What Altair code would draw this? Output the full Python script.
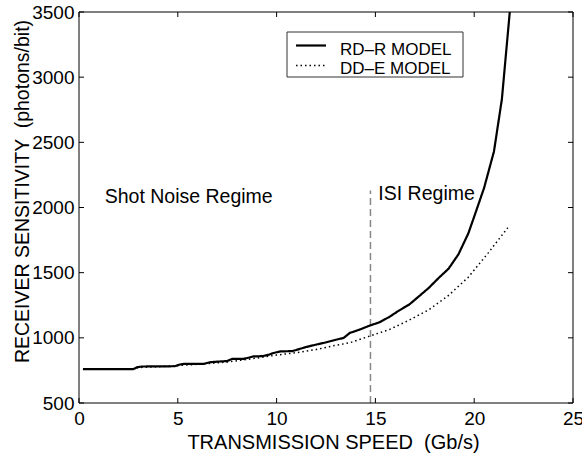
import altair as alt
import pandas as pd

# ---- data ----
series_names = ["RD\u2013R MODEL", "DD\u2013E MODEL"]

rd_x = [0.2, 2.75, 2.95, 3.2, 4.85, 5.1, 5.3, 6.3, 6.6, 6.8, 7.5, 7.75, 8.3, 8.6, 8.8,
        9.3, 9.6, 9.85, 10.2, 10.8, 11.5, 12.0, 12.5, 13.0, 13.4, 13.7, 14.2, 14.7,
        15.2, 15.7, 16.2, 16.7, 17.2, 17.7, 18.2, 18.7, 19.2, 19.7, 20.0, 20.5, 21.0,
        21.4, 21.8]
rd_y = [760, 760, 775, 780, 782, 795, 800, 800, 812, 815, 822, 838, 838, 848, 857,
        860, 870, 884, 896, 898, 930, 948, 965, 985, 1000, 1037, 1063, 1093,
        1119, 1160, 1210, 1254, 1318, 1383, 1459, 1530, 1640, 1800, 1930, 2150, 2430,
        2830, 3500]

dd_x = [0.2, 2.75, 3.0, 4.0, 5.0, 6.0, 7.0, 7.5, 8.0, 9.0, 10.0, 11.0, 12.0, 13.0,
        13.7, 14.7, 15.7, 16.7, 17.7, 18.7, 19.7, 20.7, 21.7]
dd_y = [760, 760, 772, 778, 787, 797, 808, 814, 824, 845, 868, 886, 910, 943,
        962, 1013, 1063, 1135, 1215, 1325, 1465, 1650, 1845]

boundary_x = [14.75]
boundary_y0 = [500]
boundary_y1 = [2130]

anno_labels = ["Shot Noise Regime", "ISI Regime"]
anno_x = [1.3, 15.15]
anno_y = [2035, 2055]

x_ticks = [0, 5, 10, 15, 20, 25]
y_ticks = [500, 1000, 1500, 2000, 2500, 3000, 3500]

# ---- tables ----
rows = []
for i, (x, y) in enumerate(zip(rd_x, rd_y)):
    rows.append({"series": series_names[0], "x": x, "y": y, "order": i})
for i, (x, y) in enumerate(zip(dd_x, dd_y)):
    rows.append({"series": series_names[1], "x": x, "y": y, "order": i})
df = pd.DataFrame(rows)

FONT = "Liberation Sans"
xscale = alt.Scale(domain=[0, 25], nice=False, zero=False)
yscale = alt.Scale(domain=[500, 3500], nice=False, zero=False)

x_axis = alt.Axis(
    values=x_ticks, format="d", title="TRANSMISSION SPEED \u00a0(Gb/s)", grid=False,
    ticks=False, domain=False, labelFontSize=19, labelFont=FONT,
    labelColor="black", labelPadding=6, titleFontSize=20, titleFont=FONT,
    titleFontWeight="normal", titleColor="black", titleX=254, titleY=45,
    titleAlign="center", titleBaseline="alphabetic", labelFlush=False)
y_axis = alt.Axis(
    values=y_ticks, format="d", title="RECEIVER SENSITIVITY \u00a0(photons/bit)",
    grid=False, ticks=False, domain=False, labelFontSize=19, labelFont=FONT,
    labelColor="black", labelPadding=5, titleFontSize=19.5, titleFont=FONT,
    titleFontWeight="normal", titleColor="black", titleX=-51, titleY=179,
    titleAngle=270, titleAlign="center", titleBaseline="alphabetic",
    labelFlush=False)

dash_scale = alt.Scale(domain=series_names, range=[[1, 0], [1.5, 3]])
width_scale = alt.Scale(domain=series_names, range=[2.2, 1.5])

lines = alt.Chart(df).mark_line(clip=True, color="black").encode(
    x=alt.X("x:Q", scale=xscale, axis=x_axis),
    y=alt.Y("y:Q", scale=yscale, axis=y_axis),
    strokeDash=alt.StrokeDash("series:N", scale=dash_scale, legend=None),
    strokeWidth=alt.StrokeWidth("series:N", scale=width_scale, legend=None),
    order="order:Q",
)

bdf = pd.DataFrame({"x": boundary_x, "y0": boundary_y0, "y1": boundary_y1})
boundary = alt.Chart(bdf).mark_rule(color="#888", strokeWidth=1.5, strokeDash=[7, 4]).encode(
    x=alt.X("x:Q", scale=xscale, axis=x_axis),
    y=alt.Y("y0:Q", scale=yscale, axis=y_axis),
    y2="y1:Q",
)

adf = pd.DataFrame({"label": anno_labels, "x": anno_x, "y": anno_y})
annos = alt.Chart(adf).mark_text(align="left", baseline="alphabetic", fontSize=19.5,
                                 font=FONT, color="black").encode(
    x=alt.X("x:Q", scale=xscale, axis=x_axis),
    y=alt.Y("y:Q", scale=yscale, axis=y_axis),
    text="label:N",
)

# inward ticks on all four sides
xt = pd.DataFrame({"t": x_ticks})
yt = pd.DataFrame({"t": y_ticks})
tick_bottom = alt.Chart(xt).mark_rule(color="black", strokeWidth=1).encode(
    x=alt.X("t:Q", scale=xscale, axis=x_axis), y=alt.value(391), y2=alt.value(386))
tick_top = alt.Chart(xt).mark_rule(color="black", strokeWidth=1).encode(
    x=alt.X("t:Q", scale=xscale, axis=x_axis), y=alt.value(0), y2=alt.value(5))
tick_left = alt.Chart(yt).mark_rule(color="black", strokeWidth=1).encode(
    y=alt.Y("t:Q", scale=yscale, axis=y_axis), x=alt.value(0), x2=alt.value(5))
tick_right = alt.Chart(yt).mark_rule(color="black", strokeWidth=1).encode(
    y=alt.Y("t:Q", scale=yscale, axis=y_axis), x=alt.value(494), x2=alt.value(489))

# plot frame
one = pd.DataFrame({"k": [0]})
frame = alt.Chart(one).mark_rect(fill=None, stroke="black", strokeWidth=1).encode(
    x=alt.value(0), x2=alt.value(494), y=alt.value(0), y2=alt.value(391))

# legend box (drawn by hand so it matches the compact original)
leg_box = alt.Chart(one).mark_rect(fill="white", stroke="#333", strokeWidth=1).encode(
    x=alt.value(208), x2=alt.value(384), y=alt.value(20), y2=alt.value(65))
leg_df1 = pd.DataFrame({"series": [series_names[0]]})
leg_df2 = pd.DataFrame({"series": [series_names[1]]})
leg_line1 = alt.Chart(leg_df1).mark_rule(color="black", strokeWidth=2.2).encode(
    x=alt.value(217), x2=alt.value(247), y=alt.value(33.5))
leg_line2 = alt.Chart(leg_df2).mark_rule(color="black", strokeWidth=1.5,
                                         strokeDash=[1.5, 3]).encode(
    x=alt.value(217), x2=alt.value(247), y=alt.value(53.5))
leg_text1 = alt.Chart(leg_df1).mark_text(align="left", baseline="alphabetic",
                                          fontSize=17, font=FONT, color="black").encode(
    x=alt.value(261), y=alt.value(42.5), text="series:N")
leg_text2 = alt.Chart(leg_df2).mark_text(align="left", baseline="alphabetic",
                                          fontSize=17, font=FONT, color="black").encode(
    x=alt.value(261), y=alt.value(61.5), text="series:N")

chart = alt.layer(
    boundary, lines, annos, tick_bottom, tick_top, tick_left, tick_right, frame,
    leg_box, leg_line1, leg_line2, leg_text1, leg_text2
).properties(
    width=494, height=391,
    padding={"left": 79, "top": 12, "right": 9, "bottom": 57},
    autosize="none",
    background="white",
).configure_view(stroke=None)

chart.save("out.html", embed_options={"renderer": "svg", "actions": False})
